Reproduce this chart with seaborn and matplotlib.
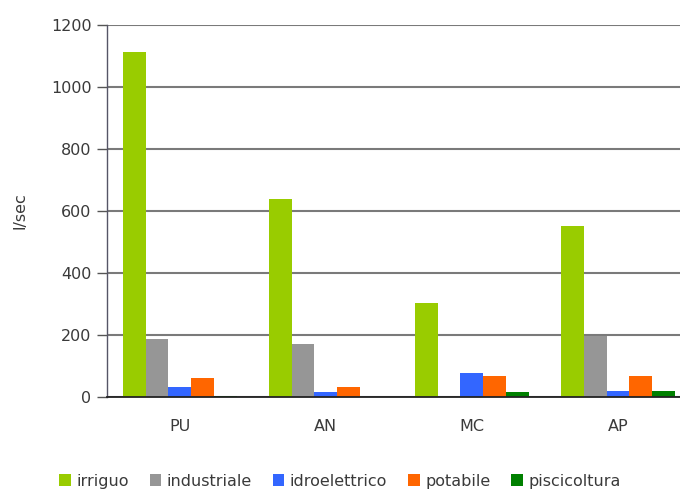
import matplotlib
matplotlib.use("Agg")
import matplotlib.pyplot as plt
import seaborn as sns
import pandas as pd
from matplotlib.patches import Patch

categories = ["PU", "AN", "MC", "AP"]
series_names = ["irriguo", "industriale", "idroelettrico", "potabile", "piscicoltura"]
irriguo = [1113, 640, 304, 552]
industriale = [187, 171, 0, 197]
idroelettrico = [32, 16, 78, 18]
potabile = [61, 32, 69, 67]
piscicoltura = [3, 0, 17, 18]
y_ticks = [0, 200, 400, 600, 800, 1000, 1200]
y_label = "l/sec"

colors = ["#99CC00", "#969696", "#3366FF", "#FF6600", "#008000"]

rows = []
for name, vals in zip(series_names,
                      [irriguo, industriale, idroelettrico, potabile, piscicoltura]):
    for c, v in zip(categories, vals):
        rows.append({"cat": c, "serie": name, "val": v})
df = pd.DataFrame(rows)

sns.set_style("white")
plt.rcParams["font.family"] = ["DejaVu Sans"]
FS = 11.5
TXT = "#3a3a3a"

fig = plt.figure(figsize=(6.8, 4.93), dpi=100)
ax = fig.add_axes([0.157, 0.1947, 0.843, 0.7546])

sns.barplot(data=df, x="cat", y="val", hue="serie", order=categories,
            hue_order=series_names, palette=colors, width=0.78, gap=0,
            saturation=1, errorbar=None, legend=False, ax=ax,
            linewidth=0, edgecolor="none")

ax.set_ylim(0, 1200)
ax.set_xlim(-0.5, 3.425)
ax.set_yticks(y_ticks)
ax.set_yticklabels([str(t) for t in y_ticks], fontsize=FS, color=TXT)
ax.yaxis.grid(True, color="#7a7a7a", linewidth=1.5)
ax.set_axisbelow(True)

ax.set_xticks(range(len(categories)))
ax.set_xticklabels(categories, fontsize=FS, color=TXT)
ax.tick_params(axis="x", which="major", length=0, pad=16)
ax.set_xticks([0.5, 1.5, 2.5], minor=True)
ax.tick_params(axis="x", which="minor", length=4, color="#444444", width=1,
               direction="out")
ax.tick_params(axis="y", length=7, color="#555555", width=1, direction="out",
               left=True, pad=4)
ax.set_xlabel("")
ax.set_ylabel(y_label, fontsize=FS, color=TXT, labelpad=17)

for s in ["top", "right"]:
    ax.spines[s].set_visible(False)
ax.spines["left"].set_color("#555566")
ax.spines["left"].set_linewidth(1)
ax.spines["bottom"].set_color("#222222")
ax.spines["bottom"].set_linewidth(1.3)

handles = [Patch(facecolor=c, edgecolor="none", label=n)
           for c, n in zip(colors, series_names)]
fig.legend(handles=handles, loc="center", bbox_to_anchor=(0.5, 0.024),
           ncol=5, frameon=False, fontsize=FS, handlelength=0.72,
           handleheight=0.72, handletextpad=0.35, columnspacing=1.3,
           labelcolor=TXT, borderaxespad=0, borderpad=0)

fig.savefig("out.png", dpi=100)
